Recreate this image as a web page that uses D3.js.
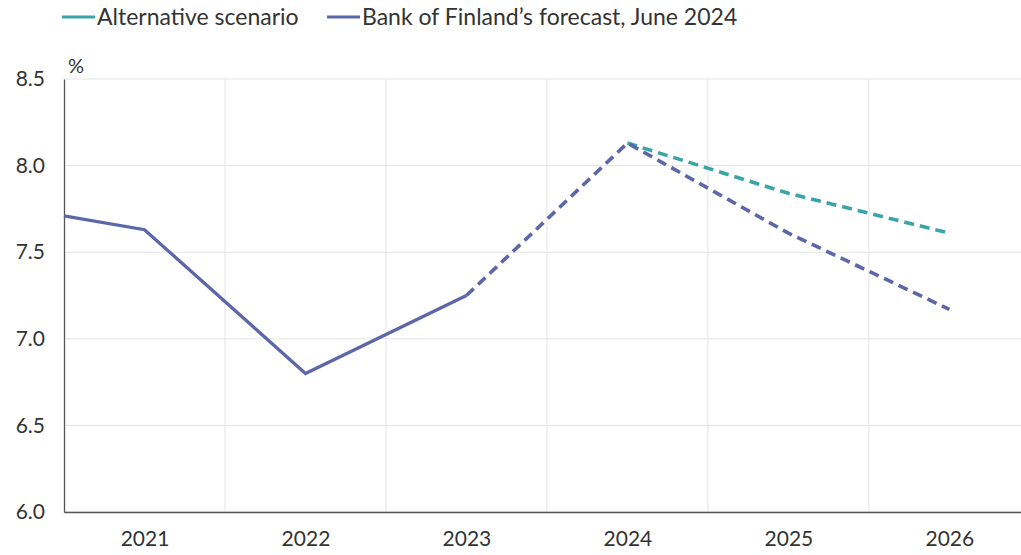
<!DOCTYPE html>
<html>
<head>
<meta charset="utf-8">
<script src="https://cdn.jsdelivr.net/npm/d3@7"></script>
<style>
    body { margin: 0; background: #fff; }
    text { font-family: Lato, "Open Sans", sans-serif; fill: #333; }
</style>
</head>
<body>
<script>
// data
const years = [2020.5, 2021, 2022, 2023, 2024, 2025, 2026];
const bankValues = [7.71, 7.63, 6.80, 7.25, 8.13, 7.61, 7.17];
const altYears = [2024, 2025, 2026];
const altValues = [8.13, 7.84, 7.61];
const yearLabels = [2021, 2022, 2023, 2024, 2025, 2026];
const yTicks = [6.0, 6.5, 7.0, 7.5, 8.0, 8.5];
const forecastStart = 2023;

const width = 1021, height = 555;
const margin = { top: 79, right: 0, bottom: 43, left: 64 };

const svg = d3.select("body").append("svg")
    .attr("width", width)
    .attr("height", height);

const x = d3.scaleLinear()
    .domain([2020.5, 2026.445])
    .range([margin.left, width - margin.right]);

const y = d3.scaleLinear()
    .domain([6.0, 8.5])
    .range([height - margin.bottom, margin.top]);

// horizontal gridlines
svg.append("g")
    .selectAll("line")
    .data(yTicks)
    .join("line")
    .attr("x1", margin.left)
    .attr("x2", width)
    .attr("y1", d => y(d))
    .attr("y2", d => y(d))
    .attr("stroke", "#e4e4e4")
    .attr("stroke-width", 1);

// vertical gridlines between the years
svg.append("g")
    .selectAll("line")
    .data(yearLabels.slice(0, -1).map(d => d + 0.5))
    .join("line")
    .attr("x1", d => x(d))
    .attr("x2", d => x(d))
    .attr("y1", margin.top)
    .attr("y2", y(6.0))
    .attr("stroke", "#e4e4e4")
    .attr("stroke-width", 1);

// y axis
const yAxis = svg.append("g")
    .attr("transform", `translate(${margin.left},0)`)
    .call(d3.axisLeft(y).tickValues(yTicks).tickFormat(d3.format(".1f")).tickSize(0).tickPadding(19));
yAxis.select(".domain").attr("stroke", "#555").attr("stroke-width", 1.3);
yAxis.selectAll("text").style("font-size", "21px").attr("fill", "#333");

// x axis
const xAxis = svg.append("g")
    .attr("transform", `translate(0,${y(6.0)})`)
    .call(d3.axisBottom(x).tickValues(yearLabels).tickFormat(d3.format("d")).tickSize(0).tickPadding(19));
xAxis.select(".domain").attr("stroke", "#555").attr("stroke-width", 1.3);
xAxis.selectAll("text").style("font-size", "21px").attr("fill", "#333");

svg.append("text")
    .attr("x", margin.left + 4)
    .attr("y", margin.top - 6)
    .style("font-size", "20px")
    .text("%");

const line = d3.line()
    .x(d => x(d[0]))
    .y(d => y(d[1]));

const bankColor = "#5b67a8";
const altColor = "#3aa5a6";

const bankPts = years.map((d, i) => [d, bankValues[i]]);
const altPts = altYears.map((d, i) => [d, altValues[i]]);

svg.append("path")
    .datum(altPts)
    .attr("d", line)
    .attr("fill", "none")
    .attr("stroke", altColor)
    .attr("stroke-width", 3.6)
    .attr("stroke-dasharray", "10,6");

svg.append("path")
    .datum(bankPts.filter(d => d[0] <= forecastStart))
    .attr("d", line)
    .attr("fill", "none")
    .attr("stroke", bankColor)
    .attr("stroke-width", 3.3);

svg.append("path")
    .datum(bankPts.filter(d => d[0] >= forecastStart))
    .attr("d", line)
    .attr("fill", "none")
    .attr("stroke", bankColor)
    .attr("stroke-width", 3.6)
    .attr("stroke-dasharray", "10,6");

// legend
const legendItems = [
    { name: "Alternative scenario", color: altColor, x: 62 },
    { name: "Bank of Finland\u2019s forecast, June 2024", color: bankColor, x: 327 }
];
const legend = svg.append("g")
    .selectAll("g")
    .data(legendItems)
    .join("g")
    .attr("transform", d => `translate(${d.x},17)`);
legend.append("line")
    .attr("x1", 0).attr("x2", 33)
    .attr("stroke", d => d.color)
    .attr("stroke-width", 3);
legend.append("text")
    .attr("x", 35)
    .attr("dy", "0.35em")
    .style("font-size", "23px")
    .text(d => d.name);
</script>
</body>
</html>
